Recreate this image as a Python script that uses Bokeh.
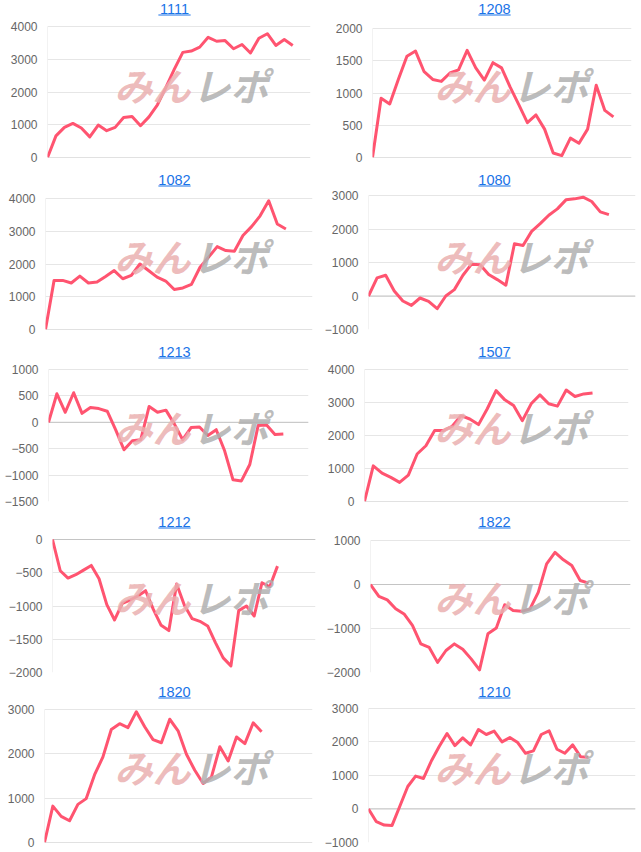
from bokeh.plotting import figure
from bokeh.layouts import column, row
from bokeh.models import FixedTicker, Label, BoxAnnotation, Range1d
from bokeh.embed import file_html
from bokeh.resources import INLINE

# ---------------- data ----------------
titles = ["1111", "1208", "1082", "1080", "1213", "1507", "1212", "1822", "1820", "1210"]

s1111 = [0, 660, 920, 1040, 900, 630, 990, 820, 920, 1220, 1250, 970, 1240, 1610, 2140,
         2700, 3210, 3250, 3370, 3670, 3550, 3570, 3320, 3450, 3190, 3640, 3780, 3420, 3600, 3420]
s1208 = [0, 920, 830, 1210, 1570, 1650, 1330, 1210, 1180, 1310, 1360, 1660, 1390, 1200, 1470,
         1390, 1090, 820, 540, 660, 440, 70, 30, 300, 220, 440, 1120, 730, 630]
s1082 = [0, 1500, 1500, 1420, 1630, 1420, 1450, 1620, 1800, 1550, 1650, 2000, 1800, 1600, 1480,
         1220, 1270, 1380, 1900, 2210, 2530, 2410, 2390, 2870, 3140, 3470, 3930, 3220, 3070]
s1080 = [0, 540, 620, 150, -150, -280, -60, -160, -380, 0, 190, 620, 950, 930, 640, 490, 320,
         1560, 1510, 1930, 2160, 2410, 2600, 2870, 2900, 2950, 2820, 2510, 2430]
s1213 = [0, 540, 190, 560, 170, 280, 260, 210, -140, -520, -350, -330, 300, 190, 230, -30, -330,
         -100, -90, -250, -140, -540, -1090, -1110, -800, -60, -50, -230, -220]
s1507 = [0, 1080, 860, 730, 580, 800, 1440, 1690, 2150, 2150, 2280, 2600, 2500, 2330, 2810, 3360,
         3080, 2910, 2450, 2960, 3230, 2960, 2890, 3380, 3180, 3260, 3290]
s1212 = [0, -470, -580, -530, -460, -390, -590, -980, -1210, -960, -910, -850, -770, -1050, -1290,
         -1370, -670, -990, -1190, -1230, -1300, -1550, -1780, -1900, -1070, -1000, -1150, -650, -710, -400]
s1822 = [0, -270, -350, -550, -670, -930, -1350, -1430, -1770, -1500, -1350, -1470, -1690, -1940,
         -1120, -990, -460, -590, -610, -560, -180, 470, 730, 560, 430, 90, 30]
s1820 = [0, 820, 590, 490, 860, 990, 1530, 1930, 2550, 2680, 2590, 2950, 2610, 2320, 2250, 2780,
         2520, 1990, 1630, 1330, 1480, 2160, 1840, 2380, 2230, 2700, 2500]
s1210 = [0, -380, -480, -490, 90, 670, 980, 910, 1430, 1860, 2250, 1890, 2120, 1910, 2370, 2220,
         2320, 2000, 2130, 1980, 1660, 1730, 2220, 2330, 1780, 1660, 1910, 1560, 1540]

series = [s1111, s1208, s1082, s1080, s1213, s1507, s1212, s1822, s1820, s1210]

y_min = [0, 0, 0, -1000, -1500, 0, -2000, -2000, 0, -1000]
y_max = [4000, 2000, 4000, 3000, 1000, 4000, 0, 1000, 3000, 3000]
y_step = [1000, 500, 1000, 1000, 500, 1000, 500, 1000, 1000, 1000]
x_slots = [31.1, 30.1, 31.1, 31.1, 31.0, 30.1, 33.9, 31.0, 32.1, 34.0]

# ---------------- layout / style ----------------
row_h = [171, 171, 170, 170, 170]
b_top = [26, 28, 27, 24, 27, 27, 27, 28, 27, 26]     # plot-area top inside each canvas
b_bot = [14, 14, 13, 13, 11, 11, 10, 10, 10, 9]
b_left = [47, 52, 45, 48, 48, 44, 52, 50, 44, 48]
b_right = [10, 9, 8, 5, 12, 12, 5, 10, 8, 5]
title_y = [8, 8, 8, 8, 9, 9, 9, 9, 9, 9]

LINE = "#ff5470"
GRID = "#e6e6e6"
ZERO = "#c4c4c4"
TICK = "#666666"
LINK = "#1a73e8"
FONT = "Liberation Sans"
JP = "Noto Sans CJK JP"

figs = []
for i, (title, ys) in enumerate(zip(titles, series)):
    r = i // 2
    h = row_h[r]
    data_h = h - b_top[i] - b_bot[i]
    span = y_max[i] - y_min[i]
    # frame reaches to the top of the canvas so the title can sit inside it
    y_end = y_max[i] + span * b_top[i] / data_h
    p = figure(width=320, height=h, output_backend="svg", toolbar_location=None,
               x_range=Range1d(0, x_slots[i]), y_range=Range1d(y_min[i], y_end),
               min_border_top=0, min_border_bottom=b_bot[i],
               min_border_left=b_left[i], min_border_right=b_right[i])
    p.outline_line_color = None
    p.background_fill_color = "white"
    p.border_fill_color = "white"
    p.xaxis.visible = False
    p.xgrid.visible = False
    p.ygrid.grid_line_color = GRID
    p.yaxis.ticker = FixedTicker(ticks=list(range(y_min[i], y_max[i] + 1, y_step[i])))
    p.yaxis.axis_line_color = None
    p.yaxis.major_tick_line_color = None
    p.yaxis.minor_tick_line_color = None
    p.yaxis.major_tick_out = 0
    p.yaxis.major_tick_in = 0
    p.yaxis.major_label_standoff = 10
    p.yaxis.major_label_text_font = FONT
    p.yaxis.major_label_text_font_size = "12px"
    p.yaxis.major_label_text_color = TICK

    # left border line of the plot area
    p.segment(x0=[0], y0=[y_min[i]], x1=[0], y1=[y_max[i]], line_color=GRID, line_width=1)

    if y_min[i] <= 0 <= y_max[i]:
        p.segment(x0=[0], y0=[0], x1=[x_slots[i]], y1=[0], line_color=ZERO, line_width=1)

    # watermark
    p.add_layout(Label(x=152, y=84, x_units="canvas", y_units="canvas", text="みん",
                       text_align="center", text_baseline="middle", text_font=JP,
                       text_font_size="38px", text_font_style="bold italic",
                       text_color="#eab0b0", text_alpha=0.85))
    p.add_layout(Label(x=230, y=84, x_units="canvas", y_units="canvas", text="レポ",
                       text_align="center", text_baseline="middle", text_font=JP,
                       text_font_size="38px", text_font_style="bold italic",
                       text_color="#b0b0b0", text_alpha=0.85))

    p.line(list(range(len(ys))), ys, line_color=LINE, line_width=3, line_join="round")

    # title (link style)
    tx = 174
    ty = title_y[i]
    p.add_layout(Label(x=tx, y=ty, x_units="canvas", y_units="canvas", text=title,
                       text_align="center", text_baseline="middle", text_font=FONT,
                       text_font_size="14.5px", text_color=LINK))
    half = 0.556 * 14.5 * len(title) / 2
    p.add_layout(BoxAnnotation(left=tx - half, right=tx + half, top=ty + 6,
                               bottom=ty + 7, left_units="canvas", right_units="canvas",
                               top_units="canvas", bottom_units="canvas",
                               fill_color=LINK, fill_alpha=1, line_color=None))
    figs.append(p)

layout = column([row(figs[k], figs[k + 1], spacing=0) for k in range(0, 10, 2)], spacing=0)

open("out.html", "w").write(file_html(layout, INLINE))
